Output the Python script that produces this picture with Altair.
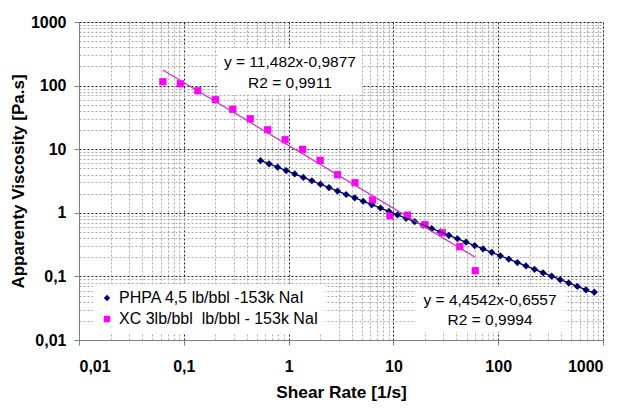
import altair as alt
import pandas as pd

# ---- data ----
phpa_x = [0.54, 0.651, 0.786, 0.948, 1.145, 1.382, 1.667, 2.014, 2.43, 2.931,
          3.54, 4.276, 5.152, 6.223, 7.516, 9.078, 10.94, 13.21, 15.96, 19.23,
          23.23, 28.05, 33.81, 40.83, 49.32, 59.57, 71.78, 86.7, 104.7, 126.2,
          152.4, 184.1, 222.3, 267.9, 323.6, 390.8, 471.0, 568.9, 687.1, 826.0]
phpa_y = [6.6, 5.9, 5.22, 4.61, 4.08, 3.6, 3.19, 2.82, 2.49, 2.2,
          1.94, 1.72, 1.52, 1.34, 1.19, 1.05, 0.928, 0.82, 0.724, 0.641,
          0.566, 0.5, 0.443, 0.391, 0.346, 0.305, 0.27, 0.239, 0.211, 0.187,
          0.165, 0.146, 0.129, 0.114, 0.101, 0.0889, 0.0787, 0.0696, 0.0615, 0.0565]

xc_x = [0.0631, 0.0926, 0.136, 0.2, 0.293, 0.43, 0.631, 0.926, 1.36, 2.0,
        2.93, 4.3, 6.31, 9.26, 13.6, 20.0, 29.3, 43.0, 60.4]
xc_y = [115, 107, 83, 60, 42.4, 30.1, 20.2, 14.1, 9.95, 6.68,
        3.97, 2.97, 1.59, 0.9, 0.92, 0.65, 0.486, 0.293, 0.123]

series_names = ["PHPA 4,5 lb/bbl -153k NaI", "XC 3lb/bbl\u00a0 lb/bbl - 153k NaI"]
series_colors = ["#000080", "#FF00FF"]
series_shapes = ["diamond", "square"]

# power-law trend lines (end points of fitted curves)
trend_phpa_x = [0.54, 826.0]
trend_phpa_y = [6.68, 0.0545]
trend_xc_x = [0.0631, 60.4]
trend_xc_y = [175.8, 0.2]

eq_text = ["y = 11,482x-0,9877", "R2 = 0,9911", "y = 4,4542x-0,6557", "R2 = 0,9994"]
eq_x = [1.03, 1.03, 83.6, 83.6]
eq_y = [235, 110, 0.0426, 0.0206]
box_x = [0.207, 16.4]
box_x2 = [5.01, 434]
box_y = [390, 0.068]
box_y2 = [71.1, 0.0134]

major_ticks = [0.01, 0.1, 1, 10, 100, 1000]
minor_ticks = [round(d * 10.0 ** e, 6) for e in range(-2, 3) for d in range(2, 10)]

FONT = "Liberation Sans"
dom = [0.01, 1000]

pts = pd.DataFrame({
    "x": phpa_x + xc_x,
    "y": phpa_y + xc_y,
    "s": [series_names[0]] * len(phpa_x) + [series_names[1]] * len(xc_x),
})
pts["order"] = [0] * len(phpa_x) + [1] * len(xc_x)

lab = "replace(format(datum.value, '~g'), '.', ',')"

xs = alt.Scale(type="log", domain=dom, nice=False)
ys = alt.Scale(type="log", domain=dom, nice=False)

# minor grid layer (invisible marks carrying minor axes)
minor = alt.Chart(pts).mark_point(opacity=0).encode(
    x=alt.X("x:Q", scale=xs, axis=alt.Axis(values=minor_ticks, orient="bottom", labels=False,
            ticks=False, domain=False, title=None, grid=True, gridColor="#a8a8a8",
            gridDash=[2, 2], gridWidth=1)),
    y=alt.Y("y:Q", scale=ys, axis=alt.Axis(values=minor_ticks, orient="left", labels=False,
            ticks=False, domain=False, title=None, grid=True, gridColor="#a8a8a8",
            gridDash=[2, 2], gridWidth=1)),
)

leg = dict(title=None, orient="none", legendX=14, legendY=262,
           fillColor="white", padding=6, labelFont=FONT,
           labelFontSize=16, labelColor="black", rowPadding=5,
           labelOffset=4, symbolSize=42, symbolStrokeWidth=0, labelLimit=0)

points = alt.Chart(pts).mark_point(filled=True, opacity=1, size=52).encode(
    x=alt.X("x:Q", scale=xs, axis=alt.Axis(values=major_ticks, orient="bottom", labelExpr=lab,
            title="Shear Rate [1/s]", grid=True, gridColor="#222222", gridDash=[2, 2],
            tickSize=5, labelPadding=13, titlePadding=9, domainColor="#808080",
            tickColor="#808080", labelFont=FONT, labelFontSize=16, labelFontWeight="bold",
            labelColor="black", titleFont=FONT, titleFontSize=17.3, titleFontWeight="bold",
            titleColor="black")),
    y=alt.Y("y:Q", scale=ys, axis=alt.Axis(values=major_ticks, orient="left", labelExpr=lab,
            title="Apparenty Viscosity [Pa.s]", grid=True, gridColor="#222222", gridDash=[2, 2],
            tickSize=5, labelPadding=8, titlePadding=3, domainColor="#808080",
            tickColor="#808080", labelFont=FONT, labelFontSize=16, labelFontWeight="bold",
            labelColor="black", titleFont=FONT, titleFontSize=17, titleFontWeight="bold",
            titleColor="black")),
    color=alt.Color("s:N", scale=alt.Scale(domain=series_names, range=series_colors),
                    legend=alt.Legend(**leg)),
    shape=alt.Shape("s:N", scale=alt.Scale(domain=series_names, range=series_shapes),
                    legend=alt.Legend(**leg)),
    order=alt.Order("order:Q"),
)

line_phpa = alt.Chart(pd.DataFrame({"x": trend_phpa_x, "y": trend_phpa_y})).mark_line(
    strokeWidth=1.3, color="#000050").encode(
    x=alt.X("x:Q", scale=xs, axis=None),
    y=alt.Y("y:Q", scale=ys, axis=None),
)
line_xc = alt.Chart(pd.DataFrame({"x": trend_xc_x, "y": trend_xc_y})).mark_line(
    strokeWidth=1.3, color="#CC33CC").encode(
    x=alt.X("x:Q", scale=xs, axis=None),
    y=alt.Y("y:Q", scale=ys, axis=None),
)

boxes = alt.Chart(pd.DataFrame({"x": box_x, "x2": box_x2, "y": box_y, "y2": box_y2})).mark_rect(
    color="white").encode(
    x=alt.X("x:Q", scale=xs, axis=None), x2="x2:Q",
    y=alt.Y("y:Q", scale=ys, axis=None), y2="y2:Q",
)

texts = alt.Chart(pd.DataFrame({"t": eq_text, "x": eq_x, "y": eq_y})).mark_text(
    font=FONT, fontSize=15.5, color="black", align="center", baseline="middle").encode(
    x=alt.X("x:Q", scale=xs, axis=None),
    y=alt.Y("y:Q", scale=ys, axis=None),
    text="t:N",
)

chart = alt.layer(minor, boxes, texts, points, line_phpa, line_xc).resolve_axis(
    x="independent", y="independent"
).properties(
    width=524, height=318,
    autosize=alt.AutoSizeParams(type="none"),
    padding={"left": 71, "top": 14, "right": 12, "bottom": 70},
).configure_view(stroke="#808080", strokeWidth=1).configure(background="white")

chart.save("out.html", embed_options={"renderer": "svg", "actions": False})
